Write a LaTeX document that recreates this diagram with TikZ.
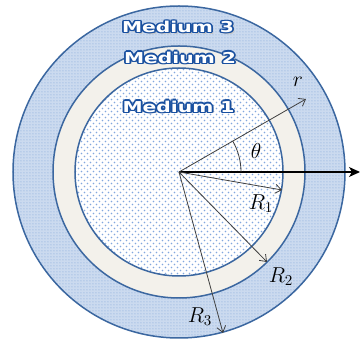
\documentclass[tikz,border=0pt]{standalone}
\usepackage{fontspec}
\newfontfamily\medfont{DejaVu Sans}
\usetikzlibrary{arrows.meta,patterns}
\definecolor{ringblue}{RGB}{59,103,160}
\definecolor{medthree}{RGB}{203,218,239}
\definecolor{medtwo}{RGB}{243,241,235}
\definecolor{dotblue}{RGB}{130,168,222}
\definecolor{dotblueB}{RGB}{120,158,214}
\definecolor{txtblue}{RGB}{25,80,160}
\definecolor{arrowgray}{RGB}{64,64,64}
\pgfdeclarepatternformonly{meddots}{\pgfqpoint{0pt}{0pt}}{\pgfqpoint{6pt}{6pt}}{\pgfqpoint{6pt}{6pt}}{%
  \pgfpathcircle{\pgfqpoint{1.5pt}{1.5pt}}{0.8pt}
  \pgfpathcircle{\pgfqpoint{4.5pt}{4.5pt}}{0.8pt}
  \pgfusepath{fill}}
\newcommand\medlabel[3]{%
  \node[medtext,text=black!22,shift={(1.6pt,-1.6pt)}] at #2 {#3};
  \foreach \a in {0,45,...,315}{\node[medtext,text=txtblue,shift={(\a:1.3pt)}] at #2 {#3};}
  \node[medtext,text=white] (#1) at #2 {#3};
}
\begin{document}
\begin{tikzpicture}[x=1pt,y=-1pt,
  ringline/.style={draw=ringblue,line width=1.5pt},
  medtext/.style={font=\medfont\bfseries\fontsize{15}{18}\selectfont,inner sep=0pt,transform shape,xscale=1.35},
  radarrow/.style={draw=arrowgray,line width=0.8pt,-{Straight Barb[length=6pt,width=9pt]}},
  axisarrow/.style={draw=black,line width=1.2pt,-{Stealth[length=11pt,width=10pt,inset=3pt]}},
  mathlbl/.style={font=\Large,inner sep=0pt,text=black,transform shape,scale=1.5}]
\useasboundingbox (0,0) rectangle (360,344);
\coordinate (O) at (179,172);
% Medium 3
\fill[medthree] (O) circle (166pt);
\fill[pattern=dots,pattern color=dotblueB] (O) circle (166pt);
\draw[ringline] (O) circle (166pt);
% Medium 2
\fill[medtwo] (O) circle (126pt);
\draw[ringline] (O) circle (126pt);
% Medium 1
\fill[white] (O) circle (104pt);
\fill[pattern=meddots,pattern color=dotblue] (O) circle (104pt);
\draw[ringline] (O) circle (104pt);
% labels
\medlabel{m3}{(178,27)}{Medium 3}
\medlabel{m2}{(180,57.5)}{Medium 2}
\medlabel{m1}{(178.5,106.5)}{Medium 1}
% coordinates
\coordinate (rt) at (306,99);
\coordinate (t1) at (282,190);
\coordinate (t2) at (267,262);
\coordinate (t3) at (223,333);
\coordinate (xe) at (360,172);
% arrows
\draw[axisarrow] (O) -- (xe);
\draw[radarrow] (O) -- (rt);
\draw[radarrow] (O) -- (t1);
\draw[radarrow] (O) -- (t2);
\draw[radarrow] (O) -- (t3);
\draw[draw=arrowgray,line width=0.8pt] (O) ++(62pt,0pt) arc[start angle=0,end angle=30,radius=62pt];
% math labels
\node[mathlbl] (lr) at (298,82) {$r$};
\node[mathlbl] (lth) at (256,151) {$\theta$};
\node[mathlbl] (l1) at (261,204) {$R_1$};
\node[mathlbl] (l2) at (281,277) {$R_2$};
\node[mathlbl] (l3) at (200,317) {$R_3$};
\end{tikzpicture}
\end{document}
